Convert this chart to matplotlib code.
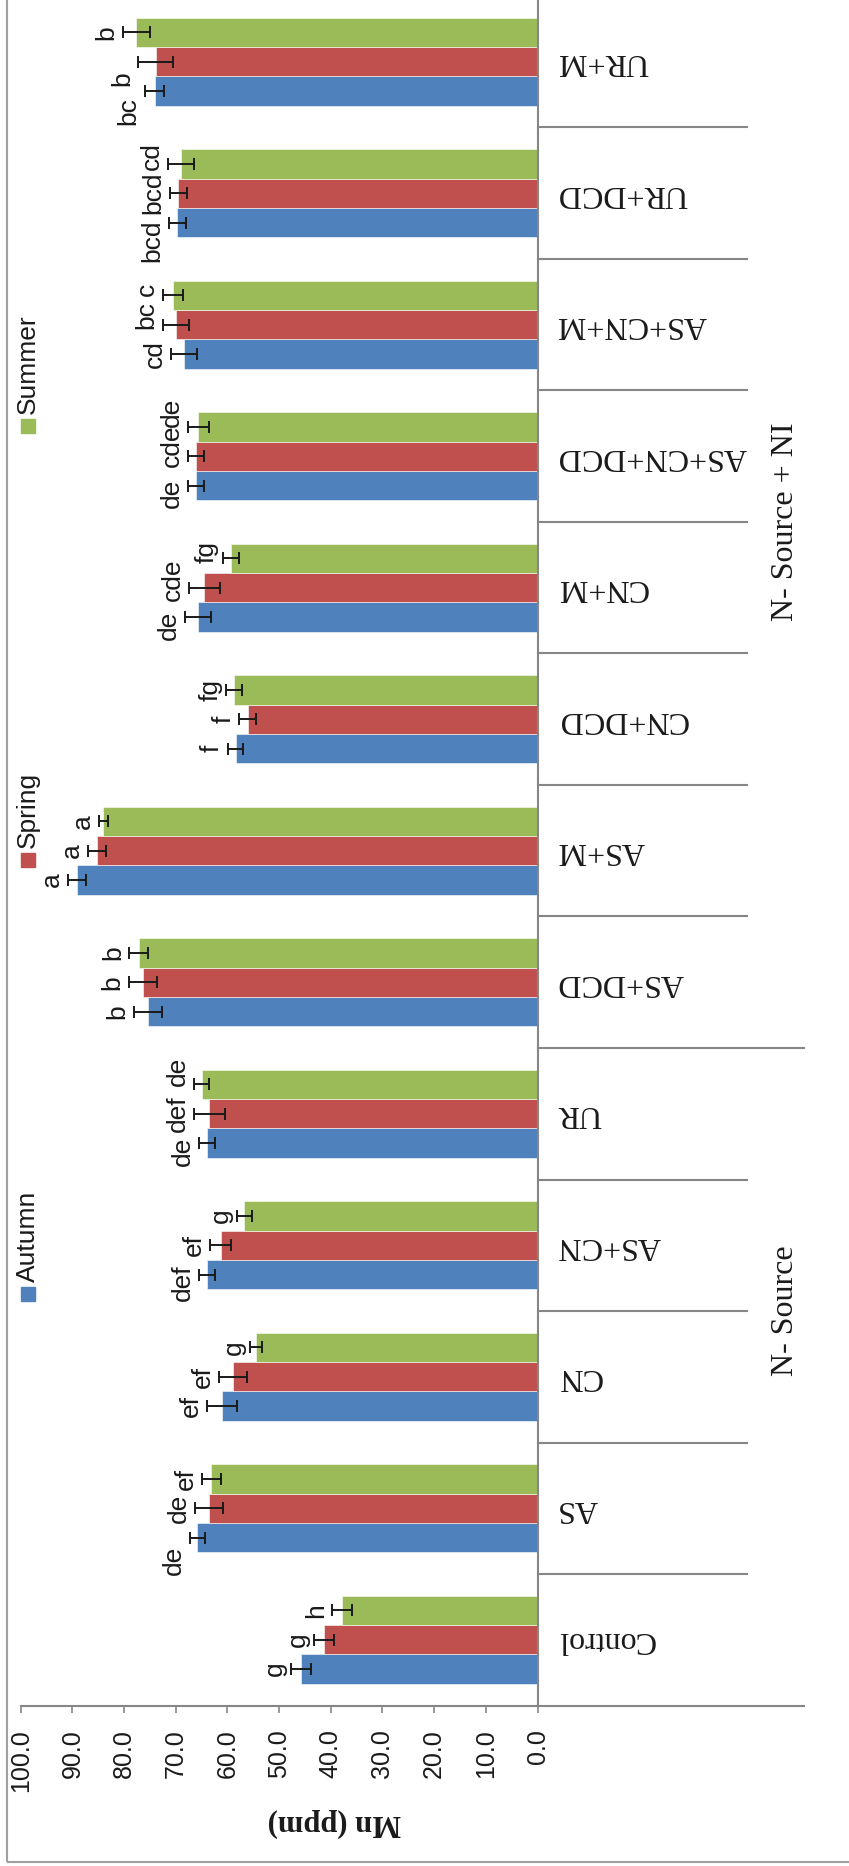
import matplotlib
matplotlib.use('Agg')
import matplotlib.pyplot as plt
from matplotlib.patches import Rectangle
import numpy as np

# Datos (Mn en ppm)
categorias = ['Control', 'AS', 'CN', 'AS+CN', 'UR', 'AS+DCD', 'AS+M', 'CN+DCD',
              'CN+M', 'AS+CN+DCD', 'AS+CN+M', 'UR+DCD', 'UR+M']
estaciones = ['Autumn', 'Spring', 'Summer']
colores = ['#4F81BD', '#C0504D', '#9BBB59']

autumn = [45.8, 65.8, 61.0, 64.0, 64.0, 75.4, 89.1, 58.4, 65.7, 66.1, 68.4, 69.7, 74.1]
spring = [41.3, 63.5, 59.0, 61.3, 63.5, 76.4, 85.2, 56.1, 64.5, 66.1, 70.0, 69.5, 73.9]
summer = [37.8, 63.1, 54.5, 56.7, 65.0, 77.2, 84.0, 58.7, 59.3, 65.6, 70.5, 69.0, 77.6]

err_autumn = [1.9, 1.5, 2.9, 1.5, 1.5, 2.7, 1.7, 1.5, 2.5, 1.5, 2.5, 1.7, 1.9]
err_spring = [2.0, 2.7, 2.7, 2.0, 3.0, 2.7, 1.7, 1.6, 3.0, 1.5, 2.5, 1.7, 3.4]
err_summer = [1.9, 1.8, 1.1, 1.5, 1.5, 1.8, 0.9, 1.5, 1.5, 2.0, 2.0, 2.5, 2.7]

letras_autumn = ['g', 'de', 'ef', 'def', 'de', 'b', 'a', 'f', 'de', 'de', 'cd', 'bcd', 'bc']
letras_spring = ['g', 'de', 'ef', 'ef', 'def', 'b', 'a', 'f', 'cde', 'cde', 'bc', 'bcd', 'b']
letras_summer = ['h', 'ef', 'g', 'g', 'de', 'b', 'a', 'fg', 'fg', 'de', 'c', 'cd', 'b']

grupos = ['N- Source', 'N- Source + NI']
limites_grupo = [-0.5, 4.5, 12.5]

valores = [autumn, spring, summer]
errores = [err_autumn, err_spring, err_summer]
letras = [letras_autumn, letras_spring, letras_summer]

# desplazamiento vertical (px, + hacia arriba) de algunas letras, como en el original
desplaz = {(1, 0): -23, (3, 0): -8, (4, 0): -8, (4, 2): 13,
           (8, 0): -8, (8, 1): 8, (8, 2): 6, (9, 0): -8, (9, 1): 10, (9, 2): 15,
           (10, 1): 10, (10, 2): 6, (11, 0): -18, (11, 2): 8, (12, 0): -20, (12, 1): -17}

W, H = 849, 1866
fig = plt.figure(figsize=(W / 100, H / 100), dpi=100)

# area del grafico (en pixeles de la figura)
x0, x1 = 20.7, 537.5
y_bot, y_top = 1705.5, -4
ax = fig.add_axes([x0 / W, 1 - y_bot / H, (x1 - x0) / W, (y_bot - y_top) / H])

sans = 'Liberation Sans'
serif = 'Liberation Serif'

yy = np.arange(len(categorias))
h = 0.223
for i in range(3):
    pos = yy + (i - 1) * h
    ax.barh(pos, valores[i], height=h, color=colores[i], edgecolor='white', linewidth=0.4)
    ax.errorbar(valores[i], pos, xerr=errores[i], fmt='none', ecolor='#1a1a1a',
                elinewidth=1.4, capsize=4, capthick=1.4)
    for j, (p, v, e, t) in enumerate(zip(pos, valores[i], errores[i], letras[i])):
        dy = desplaz.get((j, i), 0) * 0.72
        ax.annotate(t, xy=(v + e, p), xytext=(-3, dy), textcoords='offset points',
                    rotation=90, ha='right', va='center', fontsize=19,
                    family=sans, color='#1a1a1a')

ax.set_xlim(100, 0)
ax.set_ylim(-0.5, len(categorias) - 0.5)
ax.set_xticks(np.arange(0, 101, 10))
ax.set_xticklabels(['%.1f' % t for t in np.arange(0, 101, 10)], rotation=90,
                   fontsize=18, family=sans, color='#1a1a1a')
ax.tick_params(axis='x', direction='out', length=5, width=1.2, color='#868686', pad=12)
ax.set_yticks([])
for s in ['left', 'top']:
    ax.spines[s].set_visible(False)
for s in ['right', 'bottom']:
    ax.spines[s].set_color('#868686')
    ax.spines[s].set_linewidth(1.5)

tr = ax.get_yaxis_transform()
# etiquetas de categoria
for y, c in zip(yy, categorias):
    ax.text(1.0378, y, c, transform=tr, rotation=180, ha='left', va='center',
            fontsize=23, family=serif, color='#1a1a1a')

# separadores del eje de categorias
for k in range(len(categorias) + 1):
    b = k - 0.5
    fin = 1.516 if b in limites_grupo else 1.405
    ax.plot([1.0, fin], [b, b], transform=tr, color='#868686', lw=1.5, clip_on=False)

# etiquetas de grupo
for g, yg in zip(grupos, [2.5, 8.5]):
    ax.text(1.479, yg, g, transform=tr, rotation=90, ha='center', va='center',
            fontsize=23, family=serif, color='#1a1a1a')

# titulo del eje de valores
fig.text(334 / W, 1 - 1823 / H, 'Mn (ppm)', rotation=180, ha='center', va='center',
         fontsize=22, family=serif, fontweight='bold', color='#1a1a1a')

# leyenda
ley_y = [1294, 860, 426]
for nombre, col, py in zip(estaciones, colores, ley_y):
    fig.patches.append(Rectangle(((28 - 7) / W, 1 - (py + 7) / H), 14 / W, 14 / H,
                                 transform=fig.transFigure, color=col))
    fig.text(28 / W, 1 - (py - 12) / H, nombre, rotation=90, ha='center', va='bottom',
             fontsize=19, family=sans, color='#1a1a1a')

# marco exterior
fig.patches.append(Rectangle((7 / W, 1 - 1862 / H), 860 / W, 1880 / H,
                             transform=fig.transFigure, fill=False,
                             edgecolor='#a0a0a0', linewidth=1.5))

fig.savefig('out.png', dpi=100)
